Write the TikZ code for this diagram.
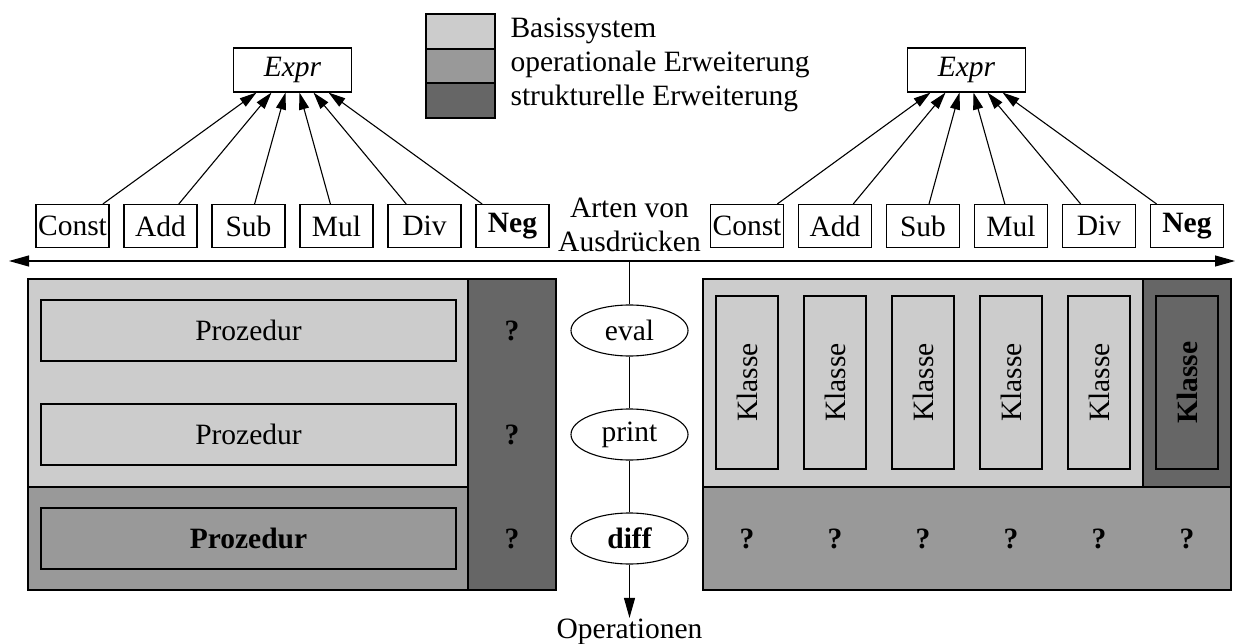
\documentclass[tikz,border=0pt]{standalone}
\usepackage{fontspec}
\setmainfont{Liberation Serif}
\usetikzlibrary{arrows.meta,shapes.geometric}
\definecolor{basis}{gray}{0.8}
\definecolor{opext}{gray}{0.6}
\definecolor{strext}{gray}{0.4}
\begin{document}
\begin{tikzpicture}[x=1pt,y=-1pt,line width=1.1pt,
  every node/.style={font=\fontsize{29.5}{34}\selectfont},
  kind/.style={draw,fill=white,minimum width=73,minimum height=43,inner sep=0},
  exprbox/.style={draw,fill=white,minimum width=118,minimum height=44,inner sep=0},
  proc/.style={draw,minimum width=415,minimum height=61,inner sep=0},
  klasse/.style={draw,fill=basis,minimum width=173,minimum height=62,inner sep=0,rotate=90},
  opnode/.style={draw,ellipse,fill=white,minimum width=117,minimum height=51,inner sep=0},
  inherit/.style={-{Triangle[length=17pt,width=10pt]}},
  flow/.style={-{Triangle[length=20pt,width=11pt]}},
  both/.style={{Triangle[length=20pt,width=11pt]}-{Triangle[length=20pt,width=11pt]}}]
\useasboundingbox (0,0) rectangle (1244,644);

% legend
\filldraw[fill=basis] (426,14) rectangle (495,49);
\filldraw[fill=opext] (426,49) rectangle (495,83);
\filldraw[fill=strext] (426,83) rectangle (495,118);
\node[anchor=base west,inner sep=0] (lg1) at (510,38) {Basissystem};
\node[anchor=base west,inner sep=0] (lg2) at (510,72) {operationale Erweiterung};
\node[anchor=base west,inner sep=0] (lg3) at (510,106) {strukturelle Erweiterung};

% left side: procedural decomposition
\filldraw[fill=basis] (28,279) rectangle (468,487);
\filldraw[fill=opext] (28,487) rectangle (468,590);
\filldraw[fill=strext] (468,279) rectangle (556,590);
\node[proc,fill=basis] (p1) at (248.5,330.5) {Prozedur};
\node[proc,fill=basis] (p2) at (248.5,434.5) {Prozedur};
\node[proc,fill=opext] (p3) at (248.5,538.5) {\bfseries Prozedur};
\node (lq1) at (512,330.5) {\bfseries ?};
\node (lq2) at (512,434.5) {\bfseries ?};
\node (lq3) at (512,538.5) {\bfseries ?};

% right side: object-oriented decomposition
\filldraw[fill=basis] (703,279) rectangle (1143,487);
\filldraw[fill=strext] (1143,279) rectangle (1231,487);
\filldraw[fill=opext] (703,487) rectangle (1231,590);
\foreach \i/\x in {1/747,2/835,3/923,4/1011,5/1099}{
  \node[klasse] (k\i) at (\x,382.5) {Klasse};
  \node (rq\i) at (\x,538.5) {\bfseries ?};
}
\node[klasse,fill=strext] (k6) at (1187,382.5) {\bfseries Klasse};
\node (rq6) at (1187,538.5) {\bfseries ?};

% class hierarchies
\node[exprbox] (e1) at (292.5,70) {\itshape Expr};
\node[exprbox] (e2) at (966.5,70) {\itshape Expr};
\foreach \s/\xl/\xr/\t/\d in {a/72.5/747/Const/-36, b/160.5/835/Add/-21, c/248.5/923/Sub/-7,
                              d/336.5/1011/Mul/7, e/424.5/1099/Div/21}{
  \node[kind] (l\s) at (\xl,226) {\t};
  \node[kind] (r\s) at (\xr,226) {\t};
  \draw[inherit] (l\s) -- ([xshift=\d pt]e1.south);
  \draw[inherit] (r\s) -- ([xshift=\d pt]e2.south);
}
\node[kind] (lf) at (512.5,226) {\bfseries Neg};
\node[kind] (rf) at (1187,226) {\bfseries Neg};
\draw[inherit] (lf) -- ([xshift=36pt]e1.south);
\draw[inherit] (rf) -- ([xshift=36pt]e2.south);

% axes
\node[align=center,inner sep=0] (kinds) at (629.5,225) {Arten von\\Ausdrücken};
\coordinate (hl) at (9,261);
\coordinate (hr) at (1235,261);
\coordinate (axtop) at (629.5,261);
\draw[both] (hl) -- (hr);

\node[opnode] (eval) at (629.5,330.5) {eval};
\node[opnode] (print) at (629.5,434.5) {print};
\node[opnode] (diff) at (629.5,538.5) {\bfseries diff};
\node[anchor=base,inner sep=0] (ops) at (629.5,638) {Operationen};
\draw (axtop) -- (eval);
\draw (eval) -- (print);
\draw (print) -- (diff);
\draw[flow] (diff) -- (ops);
\end{tikzpicture}
\end{document}
